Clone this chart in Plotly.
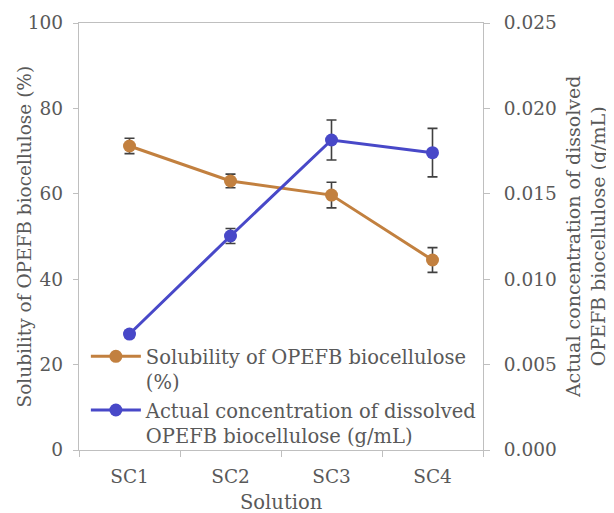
import plotly.graph_objects as go

categories = ["SC1", "SC2", "SC3", "SC4"]
solubility = [71.2, 63.0, 59.7, 44.5]
solubility_err = [1.8, 1.6, 3.0, 2.9]
concentration = [0.00679, 0.01253, 0.01815, 0.01741]
concentration_err = [0.0002, 0.00044, 0.00117, 0.00142]
y1_ticks = [0, 20, 40, 60, 80, 100]
y2_ticks = [0, 0.005, 0.010, 0.015, 0.020, 0.025]

FONT = "DejaVu Serif"
TXT = "#595959"
ORANGE = "#C2803F"
BLUE = "#4848C8"
AXIS = "#BFBFBF"

fig = go.Figure()
fig.add_trace(go.Scatter(
    x=categories, y=solubility, mode="lines+markers",
    name="Solubility of OPEFB biocellulose<br>(%)",
    line=dict(color=ORANGE, width=3),
    marker=dict(color=ORANGE, size=13),
    error_y=dict(type="data", array=solubility_err, color="#404040", thickness=1.6, width=5),
))
fig.add_trace(go.Scatter(
    x=categories, y=concentration, mode="lines+markers", yaxis="y2",
    name="Actual concentration of dissolved<br>OPEFB biocellulose (g/mL)",
    line=dict(color=BLUE, width=3),
    marker=dict(color=BLUE, size=13),
    error_y=dict(type="data", array=concentration_err, color="#404040", thickness=1.6, width=5),
))

fig.update_layout(
    width=606, height=505,
    margin=dict(l=71, r=131, t=15, b=63, pad=0),
    paper_bgcolor="white", plot_bgcolor="white",
    font=dict(family=FONT, size=18, color=TXT),
    showlegend=True,
    legend=dict(
        x=0.017, y=-0.012, xanchor="left", yanchor="bottom",
        bgcolor="rgba(0,0,0,0)", font=dict(family=FONT, size=19.5, color=TXT),
        itemwidth=50, valign="top", tracegroupgap=0,
    ),
    xaxis=dict(
        type="category", categoryorder="array", categoryarray=categories,
        tickson="boundaries", ticks="outside", ticklen=6, tickcolor=AXIS, tickwidth=1.3,
        showline=True, linecolor=AXIS, linewidth=1.3, mirror=True,
        showgrid=False, zeroline=False, automargin=False, ticklabelstandoff=10,
        tickfont=dict(family=FONT, size=18.5, color=TXT), range=[-0.5, 3.5],
    ),
    yaxis=dict(
        range=[0, 100], tickvals=y1_ticks, ticktext=[str(v) for v in y1_ticks],
        ticks="outside", ticklen=5, tickcolor=AXIS, tickwidth=1.3,
        showline=True, linecolor=AXIS, linewidth=1.3, automargin=False, ticklabelstandoff=6,
        showgrid=False, zeroline=False, tickfont=dict(family=FONT, size=18.5, color=TXT),
    ),
    yaxis2=dict(
        range=[0, 0.025], tickvals=y2_ticks, ticktext=[f"{v:.3f}" for v in y2_ticks],
        overlaying="y", side="right",
        ticks="outside", ticklen=6, tickcolor=AXIS, tickwidth=1.3,
        showline=True, linecolor=AXIS, linewidth=1.3, automargin=False, ticklabelstandoff=10,
        showgrid=False, zeroline=False, tickfont=dict(family=FONT, size=18.5, color=TXT),
    ),
    annotations=[
        dict(text="Solubility of OPEFB biocellulose (%)", xref="paper", yref="paper",
             x=-0.1337, y=0.5, xanchor="center", yanchor="middle", textangle=-90,
             showarrow=False, font=dict(family=FONT, size=18.5, color=TXT)),
        dict(text="Actual concentration of dissolved<br>OPEFB biocellulose (g/mL)",
             xref="paper", yref="paper", x=1.254, y=0.5, xanchor="center", yanchor="middle",
             textangle=-90, showarrow=False, font=dict(family=FONT, size=19, color=TXT)),
        dict(text="Solution", xref="paper", yref="paper", x=0.5, y=-0.124,
             xanchor="center", yanchor="middle", showarrow=False,
             font=dict(family=FONT, size=19.5, color=TXT)),
    ],
)

fig.write_html("out.html")
